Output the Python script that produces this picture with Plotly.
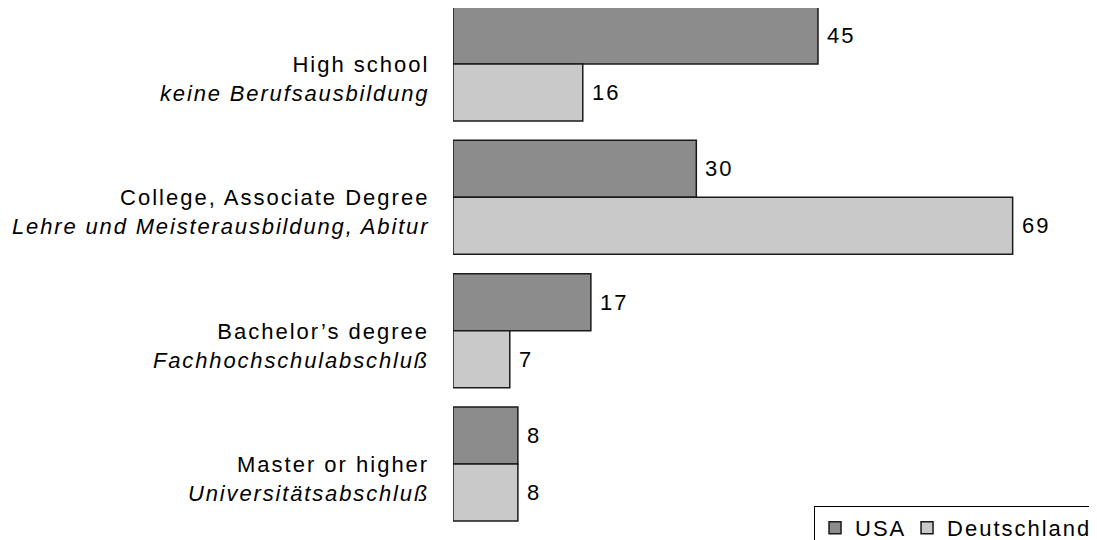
import plotly.graph_objects as go

categories = ["High school", "College, Associate Degree", "Bachelor’s degree", "Master or higher"]
categories_de = ["keine Berufsausbildung", "Lehre und Meisterausbildung, Abitur",
                 "Fachhochschulabschluß", "Universitätsabschluß"]
series_names = ["USA", "Deutschland"]
usa = [45, 30, 17, 8]
deutschland = [16, 69, 7, 8]

FONT = "Liberation Sans, Arial, sans-serif"
colors = ["#8c8c8c", "#c9c9c9"]


def sp(t, ls=2.0):
    return f'<span style="letter-spacing:{ls}px">{t}</span>'


fig = go.Figure()
legend_widths = [47, None]
for name, vals, col, lw in zip(series_names, [usa, deutschland], colors, legend_widths):
    fig.add_trace(go.Bar(
        y=categories, x=vals, name=sp(name), orientation="h",
        marker=dict(color=col, line=dict(color="#1a1a1a", width=1.5)),
        hoverinfo="x", legendwidth=lw,
    ))

annotations = []
for i, cat in enumerate(categories):
    annotations.append(dict(
        xref="paper", x=0, xanchor="right", xshift=-22,
        yref="y", y=cat, yshift=-15, yanchor="middle",
        text=sp(cat) + "<br>" + sp("<i>" + categories_de[i] + "</i>", 1.85),
        showarrow=False, align="right",
        font=dict(family=FONT, size=22, color="#000"),
    ))
    for vals, ys in ((usa, 28.5), (deutschland, -28.5)):
        annotations.append(dict(
            xref="x", x=vals[i], xanchor="left", xshift=7,
            yref="y", y=cat, yshift=ys, yanchor="middle",
            text=sp(str(vals[i])), showarrow=False,
            font=dict(family=FONT, size=22, color="#000"),
        ))

# page body has an 8px margin, so the figure is 8px smaller and offset
fig.update_layout(
    width=1089, height=532,
    margin=dict(l=445, r=0, t=0, b=0, autoexpand=False),
    paper_bgcolor="white", plot_bgcolor="white",
    barmode="group", bargap=0.145, bargroupgap=0,
    font=dict(family=FONT, size=22, color="#000"),
    xaxis=dict(range=[0, 79.4], visible=False, fixedrange=True),
    yaxis=dict(range=[3.57, -0.42], showticklabels=False, showgrid=False,
               zeroline=False, showline=False, ticks="", fixedrange=True),
    showlegend=True,
    legend=dict(orientation="h", x=1.0016, xanchor="right", y=0.064, yanchor="top",
                bordercolor="#000", borderwidth=1, bgcolor="white",
                font=dict(family=FONT, size=22, color="#000"),
                traceorder="normal", itemwidth=30),
    annotations=annotations,
)

fig.write_html("out.html")
